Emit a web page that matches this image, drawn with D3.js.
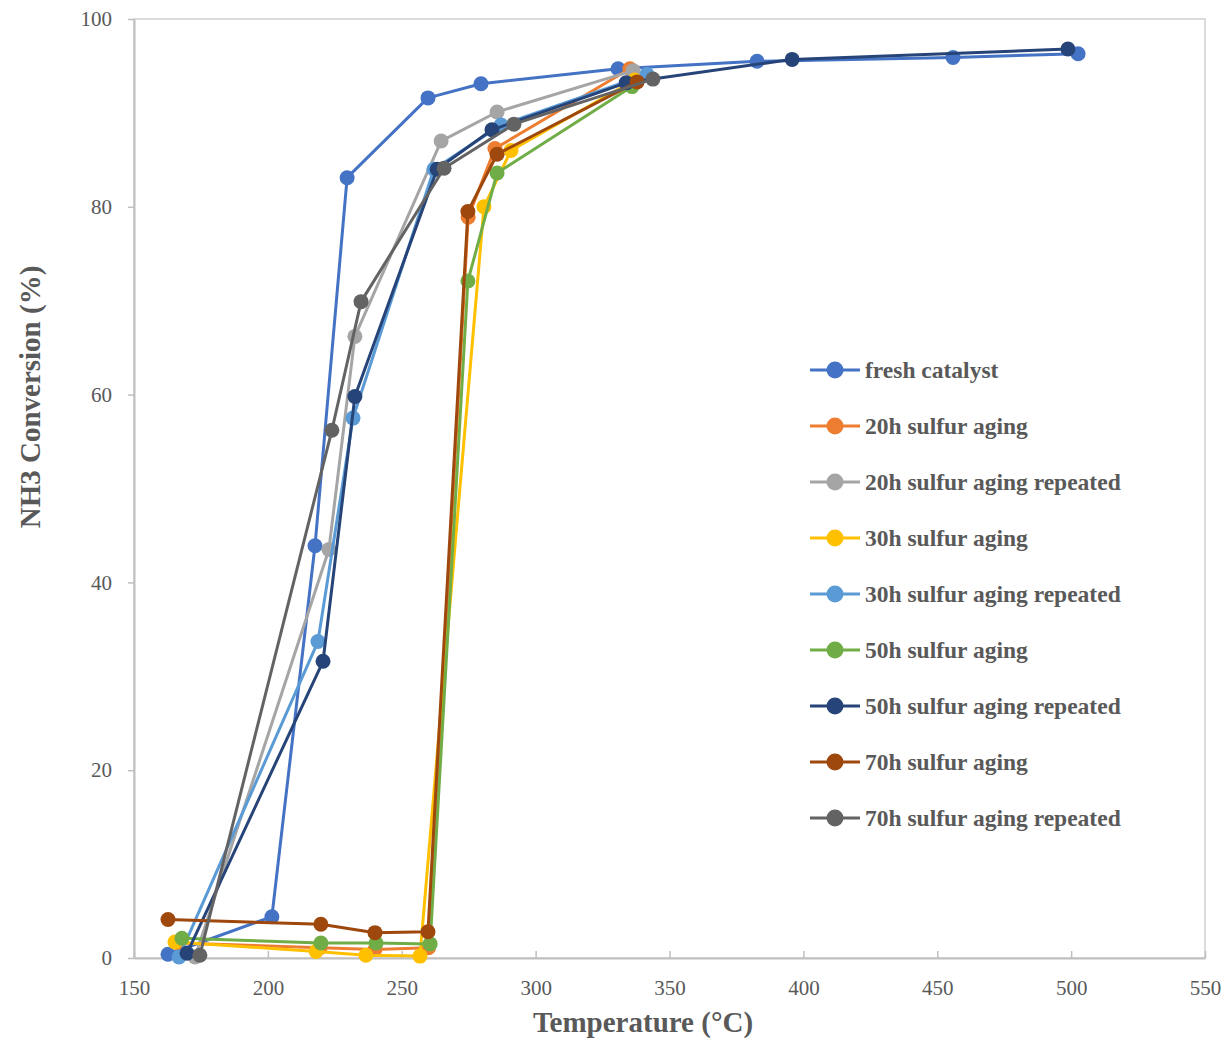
<!DOCTYPE html>
<html>
<head>
<meta charset="utf-8">
<script src="https://cdn.jsdelivr.net/npm/d3@7"></script>
<style>
  body { margin: 0; background: #fff; }
  text { font-family: "Liberation Serif", "Times New Roman", serif; }
</style>
</head>
<body>
<svg id="chart" width="1227" height="1039"></svg>
<script>
// Series names in legend order
const seriesNames = [
    "fresh catalyst",
    "20h sulfur aging",
    "20h sulfur aging repeated",
    "30h sulfur aging",
    "30h sulfur aging repeated",
    "50h sulfur aging",
    "50h sulfur aging repeated",
    "70h sulfur aging",
    "70h sulfur aging repeated"
];
const seriesColors = ["#4472C4", "#ED7D31", "#A5A5A5", "#FFC000", "#5B9BD5", "#70AD47", "#264478", "#9E480E", "#636363"];

// Temperatures (°C) and NH3 conversion (%) per series
const freshT = [162.7, 201.5, 217.6, 229.6, 259.8, 279.6, 330.8, 382.7, 455.9, 502.6];
const freshV = [0.4, 4.4, 43.9, 83.1, 91.6, 93.1, 94.7, 95.5, 95.9, 96.3];
const s20T = [166.5, 219.5, 240.0, 260.0, 274.8, 284.8, 335.2];
const s20V = [1.6, 1.1, 0.9, 1.1, 78.9, 86.2, 94.7];
const s20rT = [172.8, 222.8, 232.5, 264.7, 285.6, 336.4];
const s20rV = [0.1, 43.5, 66.2, 87.0, 90.1, 94.5];
const s30T = [165.3, 218.0, 236.6, 256.8, 280.7, 290.8, 337.0];
const s30V = [1.7, 0.7, 0.3, 0.2, 80.0, 86.0, 93.5];
const s30rT = [166.8, 218.7, 231.8, 262.0, 287.1, 341.6];
const s30rV = [0.1, 33.7, 57.5, 84.0, 88.7, 94.1];
const s50T = [167.9, 219.8, 240.4, 260.6, 274.7, 285.6, 336.0];
const s50V = [2.1, 1.6, 1.6, 1.5, 72.1, 83.6, 92.8];
const s50rT = [169.8, 220.6, 232.5, 263.2, 283.7, 333.8, 395.8, 498.8];
const s50rV = [0.5, 31.6, 59.8, 84.0, 88.2, 93.2, 95.7, 96.8];
const s70T = [162.7, 219.8, 240.0, 259.8, 274.7, 285.6, 337.9];
const s70V = [4.1, 3.6, 2.7, 2.8, 79.5, 85.6, 93.3];
const s70rT = [174.6, 223.9, 234.8, 265.8, 291.9, 343.8];
const s70rV = [0.3, 56.2, 69.9, 84.1, 88.8, 93.6];

const allT = [freshT, s20T, s20rT, s30T, s30rT, s50T, s50rT, s70T, s70rT];
const allV = [freshV, s20V, s20rV, s30V, s30rV, s50V, s50rV, s70V, s70rV];

// Axis ticks
const xTicks = [150, 200, 250, 300, 350, 400, 450, 500, 550];
const yTicks = [0, 20, 40, 60, 80, 100];

const series = seriesNames.map((name, i) => ({
    name: name,
    color: seriesColors[i],
    points: allT[i].map((t, j) => ({t: t, v: allV[i][j]}))
}));

const margin = {top: 19, right: 22, bottom: 81, left: 134};
const width = 1227 - margin.left - margin.right;
const height = 1039 - margin.top - margin.bottom;

const svg = d3.select("#chart")
    .append("g")
    .attr("transform", `translate(${margin.left},${margin.top})`);

const x = d3.scaleLinear().domain([150, 550]).range([0, width]);
const y = d3.scaleLinear().domain([0, 100]).range([height, 0]);

const axisColor = "#BFBFBF";
const labelColor = "#595959";

// Plot area border
svg.append("rect")
    .attr("x", 0).attr("y", 0)
    .attr("width", width).attr("height", height)
    .attr("fill", "none")
    .attr("stroke", "#D0D0D0")
    .attr("stroke-width", 1.5);

// X axis (ticks point up into the plot)
const xAxis = svg.append("g")
    .attr("transform", `translate(0,${height})`)
    .call(d3.axisBottom(x).tickValues(xTicks).tickSizeInner(-7).tickSizeOuter(0).tickPadding(22));
xAxis.select(".domain").attr("stroke", axisColor).attr("stroke-width", 2);
xAxis.selectAll(".tick line").attr("stroke", axisColor).attr("stroke-width", 1.5);
xAxis.selectAll("text")
    .attr("fill", labelColor)
    .attr("font-size", "21px")
    .attr("font-family", "Liberation Serif, serif");

// Y axis
const yAxis = svg.append("g")
    .call(d3.axisLeft(y).tickValues(yTicks).tickSizeInner(6).tickSizeOuter(0).tickPadding(16));
yAxis.select(".domain").attr("stroke", axisColor).attr("stroke-width", 2);
yAxis.selectAll(".tick line").attr("stroke", axisColor).attr("stroke-width", 1.5);
yAxis.selectAll("text")
    .attr("fill", labelColor)
    .attr("font-size", "21px")
    .attr("font-family", "Liberation Serif, serif");

// Axis titles
svg.append("text")
    .attr("text-anchor", "middle")
    .attr("x", 643 - margin.left)
    .attr("y", height + 74)
    .attr("fill", labelColor)
    .attr("font-size", "29px")
    .attr("font-weight", "bold")
    .text("Temperature (°C)");

svg.append("text")
    .attr("text-anchor", "middle")
    .attr("transform", "rotate(-90)")
    .attr("x", -(397 - margin.top))
    .attr("y", -94)
    .attr("fill", labelColor)
    .attr("font-size", "29px")
    .attr("font-weight", "bold")
    .text("NH3 Conversion (%)");

// Lines and markers
const line = d3.line().x(d => x(d.t)).y(d => y(d.v));

series.forEach(s => {
    const g = svg.append("g");
    g.append("path")
        .datum(s.points)
        .attr("d", line)
        .attr("fill", "none")
        .attr("stroke", s.color)
        .attr("stroke-width", 3)
        .attr("stroke-linejoin", "round");
    g.selectAll("circle")
        .data(s.points)
        .enter()
        .append("circle")
        .attr("cx", d => x(d.t))
        .attr("cy", d => y(d.v))
        .attr("r", 7.5)
        .attr("fill", s.color);
});

// Legend
const legend = svg.append("g")
    .attr("transform", `translate(${810 - margin.left}, ${370 - margin.top})`);

series.forEach((s, i) => {
    const row = legend.append("g").attr("transform", `translate(0, ${i * 56})`);
    row.append("line")
        .attr("x1", 0).attr("x2", 50)
        .attr("y1", 0).attr("y2", 0)
        .attr("stroke", s.color)
        .attr("stroke-width", 3);
    row.append("circle")
        .attr("cx", 25).attr("cy", 0)
        .attr("r", 8.5)
        .attr("fill", s.color);
    row.append("text")
        .attr("x", 55)
        .attr("y", 8)
        .attr("fill", labelColor)
        .attr("font-size", "23.5px")
        .attr("font-weight", "bold")
        .text(s.name);
});
</script>
</body>
</html>
